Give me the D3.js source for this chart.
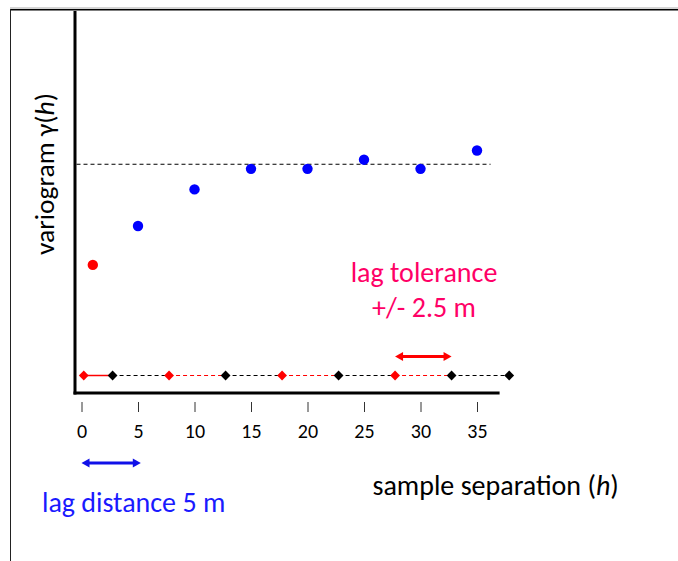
<!DOCTYPE html>
<html>
<head>
<meta charset="utf-8">
<script src="https://cdn.jsdelivr.net/npm/d3@7"></script>
<style>
  body { margin: 0; background: #fff; }
  svg text { font-family: Carlito, Calibri, Lato, sans-serif; }
</style>
</head>
<body>
<div id="chart"></div>
<script>
// data
const lagH = [1, 5, 10, 15, 20, 25, 30, 35]
const gammaVals = [0.56, 0.73, 0.89, 0.98, 0.98, 1.02, 0.98, 1.06]
const pointGroup = ["current", "lag", "lag", "lag", "lag", "lag", "lag", "lag"]
const sill = 1.0
const xTicks = [0, 5, 10, 15, 20, 25, 30, 35]
const binStarts = [0.2, 7.75, 17.75, 27.75]
const binEnds = [2.75, 12.75, 22.75, 32.75, 37.85]
const toleranceArrow = [27.75, 32.75]
const lagArrow = [0, 5.25]

async function drawVariogram() {

  // 1. dimensions
  let dimensions = {
    width: 678,
    height: 561,
    axisX: 75,
    axisY: 393,
    top: 11,
  }

  // 2. canvas
  const wrapper = d3.select("#chart")
    .append("svg")
      .attr("width", dimensions.width)
      .attr("height", dimensions.height)

  // frame
  wrapper.append("line")
    .attr("x1", 10).attr("x2", 678).attr("y1", 8).attr("y2", 8)
    .attr("stroke", "#aaa").attr("stroke-width", 1)
  wrapper.append("line")
    .attr("x1", 10).attr("x2", 678).attr("y1", 9.8).attr("y2", 9.8)
    .attr("stroke", "#000").attr("stroke-width", 1.6)
  wrapper.append("line")
    .attr("x1", 10.5).attr("x2", 10.5).attr("y1", 9).attr("y2", 561)
    .attr("stroke", "#222").attr("stroke-width", 1)

  // 3. scales
  const xScale = d3.scaleLinear()
    .domain([0, 37])
    .range([81.5, 81.5 + 37 * 11.3])

  const yScale = d3.scaleLinear()
    .domain([0, 1.67])
    .range([dimensions.axisY, dimensions.top])

  // 4. axes
  wrapper.append("line")
    .attr("x1", dimensions.axisX).attr("x2", dimensions.axisX)
    .attr("y1", yScale(1.67)).attr("y2", dimensions.axisY + 1.5)
    .attr("stroke", "#000").attr("stroke-width", 3)
  wrapper.append("line")
    .attr("x1", dimensions.axisX - 1.5).attr("x2", xScale(37))
    .attr("y1", dimensions.axisY).attr("y2", dimensions.axisY)
    .attr("stroke", "#000").attr("stroke-width", 3)

  const xAxisGenerator = d3.axisBottom()
    .scale(xScale)
    .tickValues(xTicks)
    .tickSizeInner(10)
    .tickSizeOuter(0)
    .tickPadding(12)

  const xAxis = wrapper.append("g")
    .attr("transform", `translate(0, ${dimensions.axisY + 9})`)
    .call(xAxisGenerator)
  xAxis.select(".domain").remove()
  xAxis.selectAll(".tick line").attr("stroke", "#333")
  xAxis.selectAll(".tick text")
    .style("font-size", "20px")
    .style("font-family", "Carlito, Calibri, Lato, sans-serif")
    .attr("fill", "#000")

  // 5. sill
  wrapper.append("line")
    .attr("x1", dimensions.axisX + 1.5).attr("x2", xScale(36.2))
    .attr("y1", yScale(sill)).attr("y2", yScale(sill))
    .attr("stroke", "#000").attr("stroke-width", 1)
    .attr("stroke-dasharray", "4,3")

  // 6. variogram points
  wrapper.selectAll("circle.pt")
    .data(lagH)
    .enter().append("circle")
      .attr("class", "pt")
      .attr("cx", d => xScale(d))
      .attr("cy", (d, i) => yScale(gammaVals[i]))
      .attr("r", 5.2)
      .attr("fill", (d, i) => pointGroup[i] == "current" ? "#ff0000" : "#0000ff")

  // 7. lag bins row
  const rowY = 375.5
  const bounds = binStarts.map(d => ({h: d, start: true}))
    .concat(binEnds.map(d => ({h: d, start: false})))
    .sort((a, b) => a.h - b.h)

  const segments = bounds.slice(0, -1).map((d, i) => ({
    x0: d.h, x1: bounds[i + 1].h, red: d.start, solid: i == 0
  }))

  wrapper.selectAll("line.seg")
    .data(segments)
    .enter().append("line")
      .attr("class", "seg")
      .attr("x1", d => xScale(d.x0))
      .attr("x2", d => xScale(d.x1))
      .attr("y1", rowY).attr("y2", rowY)
      .attr("stroke", d => d.red ? "#ff0000" : "#000")
      .attr("stroke-width", d => d.solid ? 1.5 : 1)
      .attr("stroke-dasharray", d => d.solid ? null : "4,3")

  const diamond = d3.symbol(d3.symbolSquare, 48)
  wrapper.selectAll("path.dia")
    .data(bounds)
    .enter().append("path")
      .attr("class", "dia")
      .attr("d", diamond)
      .attr("transform", d => `translate(${xScale(d.h)}, ${rowY}) rotate(45)`)
      .attr("fill", d => d.start ? "#ff0000" : "#000")

  // 8. arrows
  function drawArrow(x0, x1, y, colour) {
    const head = 8, half = 4.5
    wrapper.append("line")
      .attr("x1", x0 + head - 1).attr("x2", x1 - head + 1)
      .attr("y1", y).attr("y2", y)
      .attr("stroke", colour).attr("stroke-width", 3)
    wrapper.append("path")
      .attr("d", `M${x0},${y} L${x0 + head},${y - half} L${x0 + head},${y + half} Z`)
      .attr("fill", colour)
    wrapper.append("path")
      .attr("d", `M${x1},${y} L${x1 - head},${y - half} L${x1 - head},${y + half} Z`)
      .attr("fill", colour)
  }
  drawArrow(xScale(toleranceArrow[0]), xScale(toleranceArrow[1]), 356.5, "#ff0000")
  drawArrow(xScale(lagArrow[0]), xScale(lagArrow[1]), 463, "#1010e8")

  // 9. labels
  const yLabel = wrapper.append("text")
    .attr("transform", "translate(54, 174) rotate(-90)")
    .attr("text-anchor", "middle")
    .style("font-size", "27.5px")
    .attr("fill", "#000")
  yLabel.append("tspan").text("variogram γ(")
  yLabel.append("tspan").style("font-style", "italic").text("h")
  yLabel.append("tspan").text(")")

  const xLabel = wrapper.append("text")
    .attr("x", 372.5).attr("y", 495)
    .style("font-size", "28px")
    .attr("fill", "#000")
  xLabel.append("tspan").text("sample separation (")
  xLabel.append("tspan").style("font-style", "italic").text("h")
  xLabel.append("tspan").text(")")

  wrapper.append("text")
    .attr("x", 424).attr("y", 282)
    .attr("text-anchor", "middle")
    .style("font-size", "28px")
    .attr("fill", "#ff0066")
    .text("lag tolerance")
  wrapper.append("text")
    .attr("x", 424).attr("y", 317)
    .attr("text-anchor", "middle")
    .style("font-size", "28px")
    .attr("fill", "#ff0066")
    .text("+/- 2.5 m")

  wrapper.append("text")
    .attr("x", 42).attr("y", 512)
    .style("font-size", "28px")
    .attr("fill", "#1a1aff")
    .text("lag distance 5 m")
}
drawVariogram()
</script>
</body>
</html>
